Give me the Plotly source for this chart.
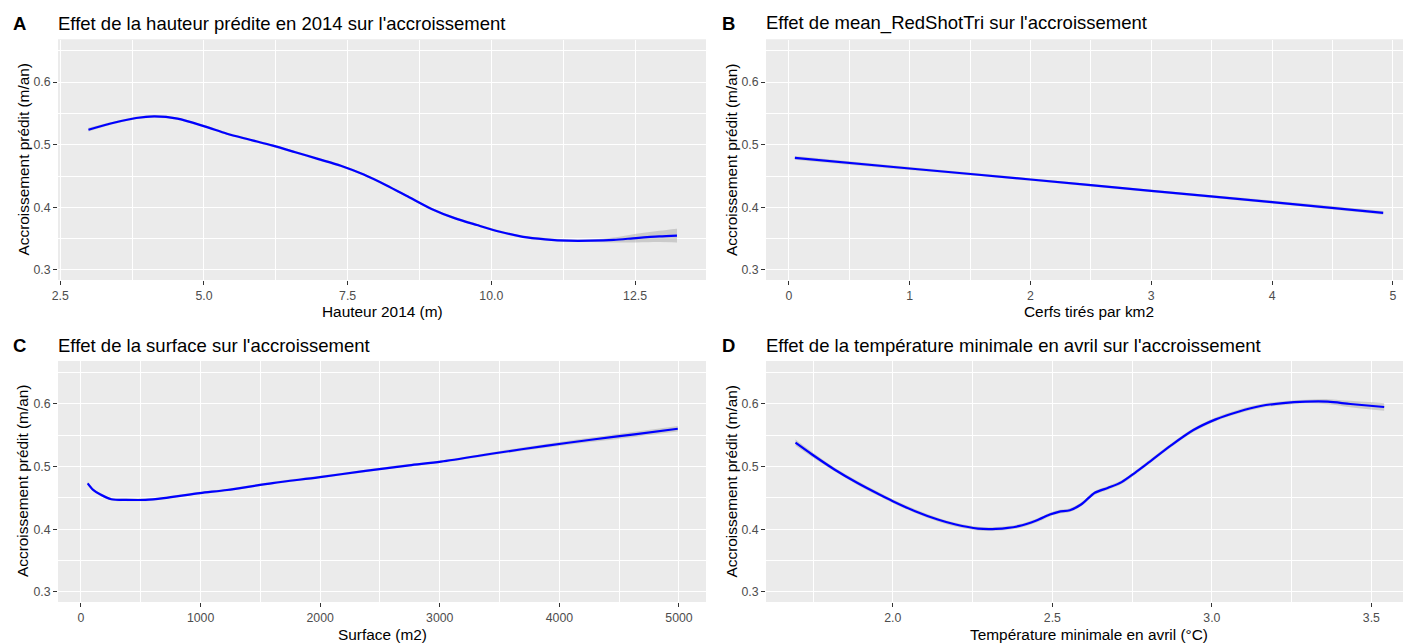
import plotly.graph_objects as go

W, H = 1403, 643

# ---------------- data ----------------
# Panel A : Hauteur 2014 (m)
a_x = [2.99, 3.43, 3.82, 4.14, 4.54, 5.01, 5.40, 5.80, 6.20, 6.59, 6.98, 7.38, 7.78, 8.17,
       8.57, 8.96, 9.36, 9.75, 10.15, 10.55, 10.94, 11.34, 11.73, 12.13, 12.52, 12.92, 13.23]
a_y = [0.524, 0.535, 0.5427, 0.5452, 0.5416, 0.5293, 0.5175, 0.508, 0.4985, 0.488, 0.4774, 0.4665,
       0.4524, 0.4354, 0.4162, 0.3975, 0.3828, 0.3717, 0.361, 0.353, 0.349, 0.3468, 0.3468,
       0.348, 0.351, 0.3537, 0.355]
a_ci = [0.003, 0.002, 0.002, 0.002, 0.002, 0.002, 0.002, 0.002, 0.002, 0.002, 0.002, 0.002,
        0.002, 0.002, 0.002, 0.002, 0.002, 0.002, 0.002, 0.002, 0.002, 0.002, 0.002,
        0.004, 0.007, 0.009, 0.011]

# Panel B : Cerfs tirés par km2
b_x = [0.05, 1.0, 2.0, 3.0, 4.0, 4.92]
b_y = [0.479, 0.462, 0.4445, 0.4262, 0.4085, 0.3912]
b_ci = [0.003, 0.0025, 0.002, 0.002, 0.0025, 0.003]

# Panel C : Surface (m2)
c_x = [56, 102, 159, 254, 387, 539, 691, 995, 1221, 1603, 1984, 2363, 2743, 3010, 3503,
       3884, 4264, 4644, 4990]
c_y = [0.473, 0.4627, 0.4558, 0.4478, 0.4467, 0.4467, 0.4494, 0.4575, 0.4625, 0.4735, 0.4826,
       0.4925, 0.5018, 0.5076, 0.5222, 0.5328, 0.5425, 0.5515, 0.56]
c_ci = [0.003, 0.002, 0.002, 0.002, 0.002, 0.002, 0.002, 0.002, 0.002, 0.002, 0.002, 0.002,
        0.002, 0.002, 0.0025, 0.003, 0.0035, 0.004, 0.0045]

# Panel D : Température minimale en avril (°C)
d_x = [1.695, 1.747, 1.817, 1.888, 1.958, 2.0, 2.07, 2.141, 2.197, 2.267, 2.323, 2.394, 2.45,
       2.492, 2.52, 2.555, 2.59, 2.633, 2.675, 2.717, 2.759, 2.801, 2.872, 2.942, 3.012, 3.083,
       3.153, 3.223, 3.294, 3.364, 3.434, 3.54]
d_y = [0.5378, 0.519, 0.4952, 0.474, 0.4553, 0.4447, 0.4287, 0.4154, 0.4074, 0.401, 0.4005,
       0.4048, 0.4138, 0.4234, 0.4277, 0.4303, 0.4394, 0.458, 0.466, 0.475, 0.4899, 0.5059,
       0.5335, 0.558, 0.575, 0.5872, 0.5963, 0.601, 0.6032, 0.6032, 0.5995, 0.5947]
d_ci = [0.005, 0.004, 0.003, 0.003, 0.003, 0.003, 0.003, 0.003, 0.003, 0.003, 0.003, 0.003,
        0.003, 0.003, 0.003, 0.003, 0.003, 0.003, 0.003, 0.003, 0.003, 0.003, 0.003, 0.003,
        0.003, 0.003, 0.003, 0.003, 0.003, 0.004, 0.005, 0.006]

titles = ["Effet de la hauteur prédite en 2014 sur l'accroissement",
          "Effet de mean_RedShotTri sur l'accroissement",
          "Effet de la surface sur l'accroissement",
          "Effet de la température minimale en avril sur l'accroissement"]
tags = ["A", "B", "C", "D"]
x_titles = ["Hauteur 2014 (m)", "Cerfs tirés par km2", "Surface (m2)",
            "Température minimale en avril (°C)"]
y_title = "Accroissement prédit (m/an)"

y_ticks = [0.3, 0.4, 0.5, 0.6]
y_ticktext = ["0.3", "0.4", "0.5", "0.6"]
y_minor = [0.35, 0.45, 0.55, 0.65]

a_ticks = [2.5, 5.0, 7.5, 10.0, 12.5]
a_ticktext = ["2.5", "5.0", "7.5", "10.0", "12.5"]
a_minor = [3.75, 6.25, 8.75, 11.25]
b_ticks = [0, 1, 2, 3, 4, 5]
b_ticktext = ["0", "1", "2", "3", "4", "5"]
b_minor = [0.5, 1.5, 2.5, 3.5, 4.5]
c_ticks = [0, 1000, 2000, 3000, 4000, 5000]
c_ticktext = ["0", "1000", "2000", "3000", "4000", "5000"]
c_minor = [500, 1500, 2500, 3500, 4500]
d_ticks = [2.0, 2.5, 3.0, 3.5]
d_ticktext = ["2.0", "2.5", "3.0", "3.5"]
d_minor = [1.75, 2.25, 2.75, 3.25]

# ---------------- layout geometry (pixels) ----------------
FONT = "Liberation Sans, Arial, sans-serif"
PANEL_BG = "#EBEBEB"


def px_x(p):
    return p / W


def px_y(p):
    return 1 - p / H


left_dom = [px_x(58), px_x(706)]
right_dom = [px_x(766), 1.0]
top_dom = [px_y(280), px_y(39.5)]
bot_dom = [px_y(602), px_y(361)]
y_range = [0.284, 0.668]

panels = [
    dict(x=a_x, y=a_y, ci=a_ci, xd=left_dom, yd=top_dom, xr=[2.46, 13.735],
         tv=a_ticks, tt=a_ticktext, mn=a_minor),
    dict(x=b_x, y=b_y, ci=b_ci, xd=right_dom, yd=top_dom, xr=[-0.189, 5.084],
         tv=b_ticks, tt=b_ticktext, mn=b_minor),
    dict(x=c_x, y=c_y, ci=c_ci, xd=left_dom, yd=bot_dom, xr=[-192, 5226],
         tv=c_ticks, tt=c_ticktext, mn=c_minor),
    dict(x=d_x, y=d_y, ci=d_ci, xd=right_dom, yd=bot_dom, xr=[1.6025, 3.599],
         tv=d_ticks, tt=d_ticktext, mn=d_minor),
]

fig = go.Figure()
layout = dict(
    width=W, height=H, margin=dict(l=0, r=0, t=0, b=0, autoexpand=False),
    paper_bgcolor="white", plot_bgcolor=PANEL_BG, showlegend=False,
    font=dict(family=FONT, color="#000000"),
)

annotations = []
shapes = []
for i, p in enumerate(panels):
    n = i + 1
    xa = "x" if n == 1 else f"x{n}"
    ya = "y" if n == 1 else f"y{n}"
    lo = [v - c for v, c in zip(p["y"], p["ci"])]
    hi = [v + c for v, c in zip(p["y"], p["ci"])]
    fig.add_trace(go.Scatter(x=p["x"], y=lo, mode="lines", line=dict(width=0, shape="spline"),
                             xaxis=xa, yaxis=ya, hoverinfo="skip"))
    fig.add_trace(go.Scatter(x=p["x"], y=hi, mode="lines", line=dict(width=0, shape="spline"),
                             fill="tonexty", fillcolor="rgba(153,153,153,0.4)",
                             xaxis=xa, yaxis=ya, hoverinfo="skip"))
    fig.add_trace(go.Scatter(x=p["x"], y=p["y"], mode="lines",
                             line=dict(color="#0000FF", width=2.2, shape="spline", smoothing=0.8),
                             xaxis=xa, yaxis=ya))
    shapes.append(dict(type="rect", xref=f"{xa} domain", yref=f"{ya} domain",
                       x0=0, x1=1, y0=0, y1=1, fillcolor=PANEL_BG, line=dict(width=0),
                       layer="below"))
    axkey = "xaxis" if n == 1 else f"xaxis{n}"
    aykey = "yaxis" if n == 1 else f"yaxis{n}"
    common = dict(showline=False, zeroline=False, showgrid=True, gridcolor="white",
                  gridwidth=1.4, ticks="outside", ticklen=4, tickwidth=1, tickcolor="#333333",
                  tickfont=dict(family=FONT, size=12.3, color="#4D4D4D"), fixedrange=True,
                  automargin=False)
    layout[axkey] = dict(domain=p["xd"], range=p["xr"], anchor=ya, tickmode="array",
                         tickvals=p["tv"], ticktext=p["tt"],
                         minor=dict(tickvals=p["mn"], showgrid=True, gridcolor="white",
                                    gridwidth=0.7, ticks=""),
                         **common)
    layout[aykey] = dict(domain=p["yd"], range=y_range, anchor=xa, tickmode="array",
                         tickvals=y_ticks, ticktext=y_ticktext,
                         minor=dict(tickvals=y_minor, showgrid=True, gridcolor="white",
                                    gridwidth=0.7, ticks=""),
                         **common)

    is_left = (i % 2 == 0)
    is_top = (i < 2)
    plot_left = 56 if is_left else 764
    tag_x = 19 if is_left else 729
    title_y = 23 if is_top else 345
    xt_cx = 382 if is_left else 1089
    xt_y = 311 if is_top else 634
    yt_x = 22.5 if is_left else 731
    yt_cy = 160 if is_top else 481.5

    annotations.append(dict(text=f"<b>{tags[i]}</b>", xref="paper", yref="paper",
                            x=px_x(tag_x), y=px_y(title_y), xanchor="center", yanchor="middle",
                            showarrow=False, font=dict(family=FONT, size=18.5, color="#000000")))
    annotations.append(dict(text=titles[i], xref="paper", yref="paper",
                            x=px_x(plot_left), y=px_y(title_y), xanchor="left", yanchor="middle",
                            showarrow=False, font=dict(family=FONT, size=18.5, color="#000000")))
    annotations.append(dict(text=x_titles[i], xref="paper", yref="paper",
                            x=px_x(xt_cx), y=px_y(xt_y), xanchor="center", yanchor="middle",
                            showarrow=False, font=dict(family=FONT, size=15.4, color="#000000")))
    annotations.append(dict(text=y_title, xref="paper", yref="paper", textangle=-90,
                            x=px_x(yt_x), y=px_y(yt_cy), xanchor="center", yanchor="middle",
                            showarrow=False, font=dict(family=FONT, size=15.4, color="#000000")))

layout["annotations"] = annotations
layout["shapes"] = shapes
fig.update_layout(**layout)
fig.write_html("out.html")
